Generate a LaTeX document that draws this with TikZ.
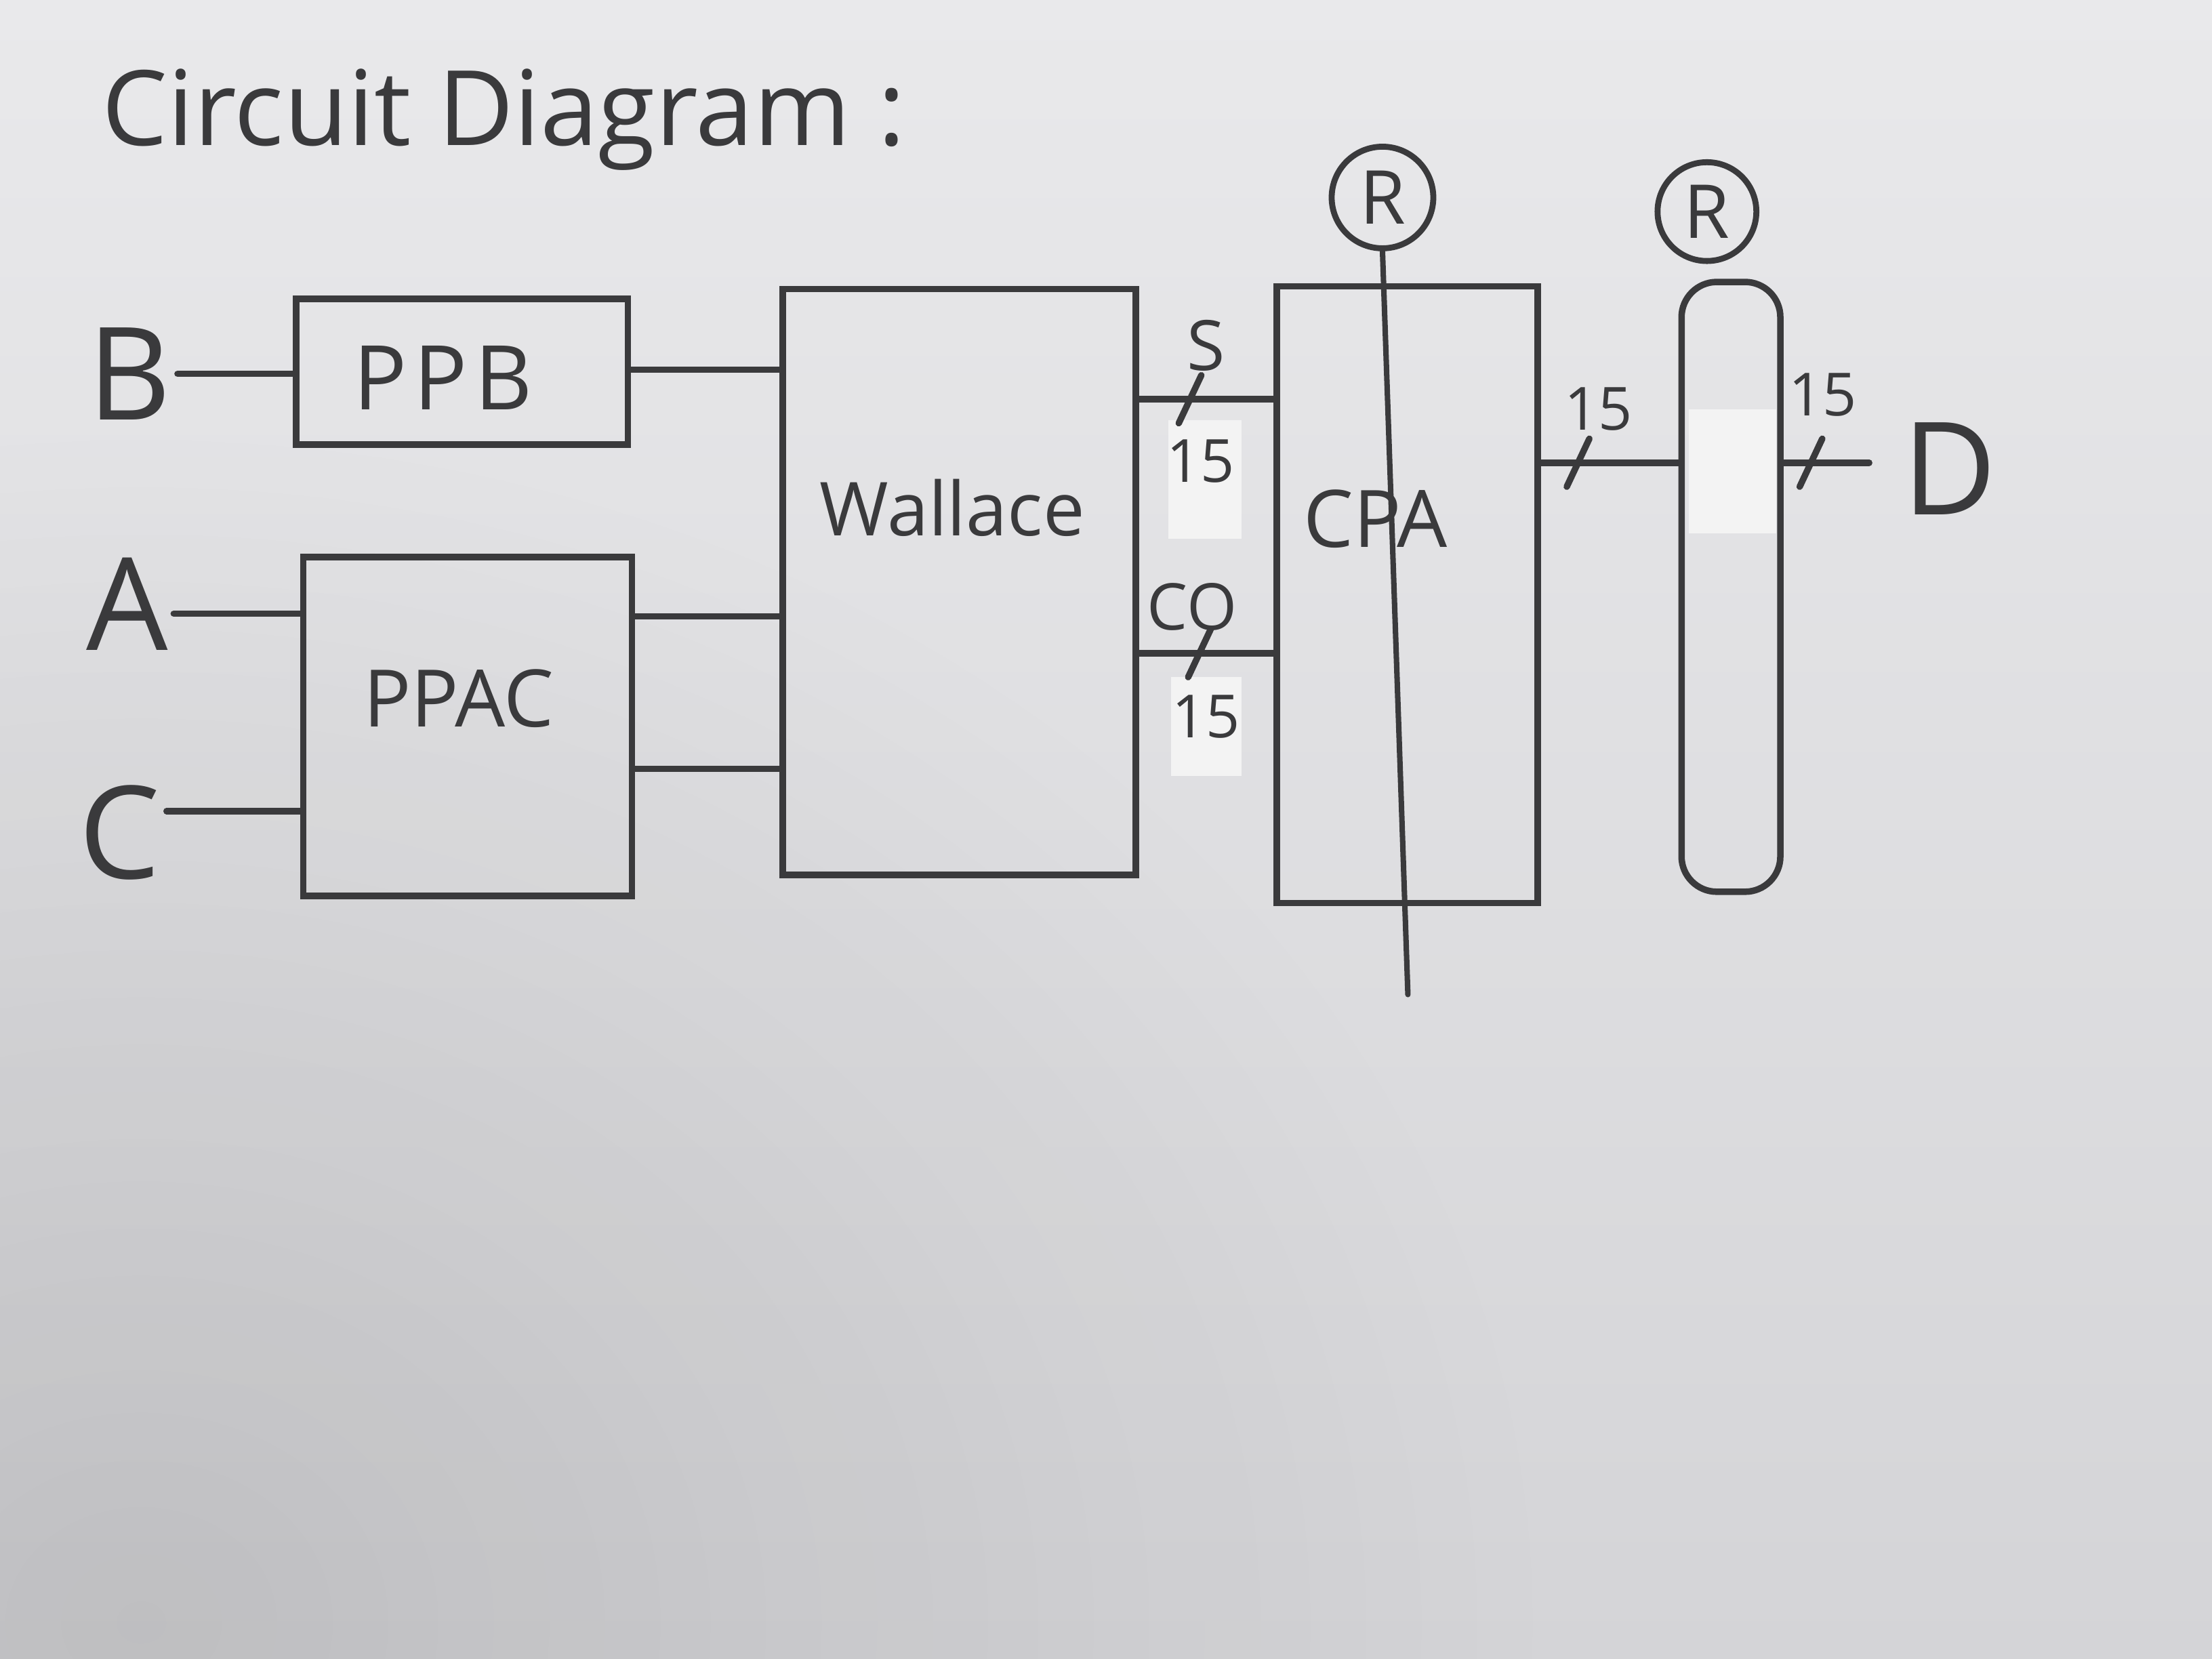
\documentclass[tikz,border=0pt]{standalone}
\usepackage{fontspec}
\setmainfont{Open Sans}
\usetikzlibrary{calc,fadings}
\definecolor{ink}{RGB}{58,58,60}
\definecolor{paperTop}{RGB}{233,233,235}
\definecolor{paperBot}{RGB}{212,212,215}
\definecolor{patch}{RGB}{243,243,243}
\tikzfading[name=darkcorner, inner color=transparent!0, outer color=transparent!100]
\begin{document}
\begin{tikzpicture}[x=0.01cm,y=-0.01cm,
  wire/.style={draw=ink,line width=1.3pt,line cap=round},
  blk/.style={draw=ink,line width=1.3pt,inner sep=0pt},
  txt/.style={text=ink,inner sep=1pt},
  regc/.style={circle,draw=ink,line width=1.2pt,inner sep=0pt,text=ink,font=\fontsize{15}{17}\selectfont},
  tag/.style={fill=patch,inner sep=0pt},
  big/.style={txt,font=\fontsize{26}{30}\selectfont},
  mid/.style={txt,font=\fontsize{16}{19}\selectfont},
  sml/.style={txt,font=\fontsize{12}{14}\selectfont},
  bus/.pic={\draw[wire] (-8,17) -- (8,-17);}]
\useasboundingbox (0,0) rectangle (1568,1176);
\begin{scope}[x=1cm,y=1cm]
\fill[top color=paperTop,bottom color=paperBot] (0,0) rectangle (15.68,-11.76);
\end{scope}
\begin{scope}
\clip (0,0) rectangle (1568,1176);
\fill[black,fill opacity=0.10,path fading=darkcorner] (-900,300) rectangle (1100,2000);
\end{scope}

% paper patches
\node[tag,minimum width=0.52cm,minimum height=0.84cm] (patchS) at (854,340) {};
\node[tag,minimum width=0.50cm,minimum height=0.70cm] (patchCO) at (855,515) {};
\node[tag,minimum width=0.62cm,minimum height=0.88cm] (patchR) at (1228,334) {};

% title
\node[txt,anchor=west,font=\fontsize{21}{24}\selectfont] (title) at (68,85) {Circuit Diagram :};

% blocks
\node[blk,minimum width=2.35cm,minimum height=1.03cm] (PPB) at (327.5,263.5) {};
\node[mid,font=\fontsize{18}{21}\selectfont\addfontfeature{LetterSpace=8}] (PPBt) at (314,268) {PPB};
\node[blk,minimum width=2.33cm,minimum height=2.40cm] (PPAC) at (331.5,515) {};
\node[mid] (PPACt) at (325,495) {PPAC};
\node[blk,minimum width=2.50cm,minimum height=4.15cm] (Wallace) at (680,412.5) {};
\node[mid,font=\fontsize{15}{18}\selectfont] (Wallacet) at (675,360) {Wallace};
\node[blk,minimum width=1.85cm,minimum height=4.37cm] (CPA) at (997.5,421.5) {};
\node[mid] (CPAt) at (975,368) {CPA};
\node[blk,rounded corners=0.25cm,minimum width=0.70cm,minimum height=4.32cm] (Reg) at (1227,416) {};

% register symbols
\node[regc,minimum size=0.72cm] (R1) at (980,140) {R};
\node[regc,minimum size=0.70cm] (R2) at (1210,150) {R};
\coordinate (clkEnd) at (998,705);
\draw[wire,line width=1.1pt] (R1.south) -- (clkEnd);

% inputs / output letters
\node[big] (B) at (92,265) {B};
\node[big] (A) at (90,428) {A};
\node[big] (C) at (85,590) {C};
\node[big] (D) at (1382,332) {D};

% wires
\draw[wire] (B.east) -- (B.east -| PPB.west);
\draw[wire] (PPB.east |- 0,262) -- (Wallace.west |- 0,262);
\draw[wire] (A.east |- 0,435) -- (PPAC.west |- 0,435);
\draw[wire] (C.east |- 0,575) -- (PPAC.west |- 0,575);
\draw[wire] (PPAC.east |- 0,437) -- (Wallace.west |- 0,437);
\draw[wire] (PPAC.east |- 0,545) -- (Wallace.west |- 0,545);
\draw[wire] (Wallace.east |- 0,283) -- pic[pos=0.38]{bus} (CPA.west |- 0,283);
\draw[wire] (Wallace.east |- 0,463) -- pic[pos=0.45]{bus} (CPA.west |- 0,463);
\draw[wire] (CPA.east |- 0,328) -- pic[pos=0.27]{bus} (Reg.west |- 0,328);
\coordinate (Dend) at (1325,328);
\draw[wire] (Reg.east |- 0,328) -- pic[pos=0.32]{bus} (Dend);

% bus labels
\node[sml,font=\fontsize{14}{16}\selectfont] (Slab) at (855,245) {S};
\node[sml] (Swid) at (851,327) {15};
\node[sml,font=\fontsize{13}{15}\selectfont] (COlab) at (845,430) {CO};
\node[sml] (COwid) at (855,508) {15};
\node[sml] (Owid) at (1133,290) {15};
\node[sml] (Dwid) at (1292,280) {15};
\end{tikzpicture}
\end{document}
